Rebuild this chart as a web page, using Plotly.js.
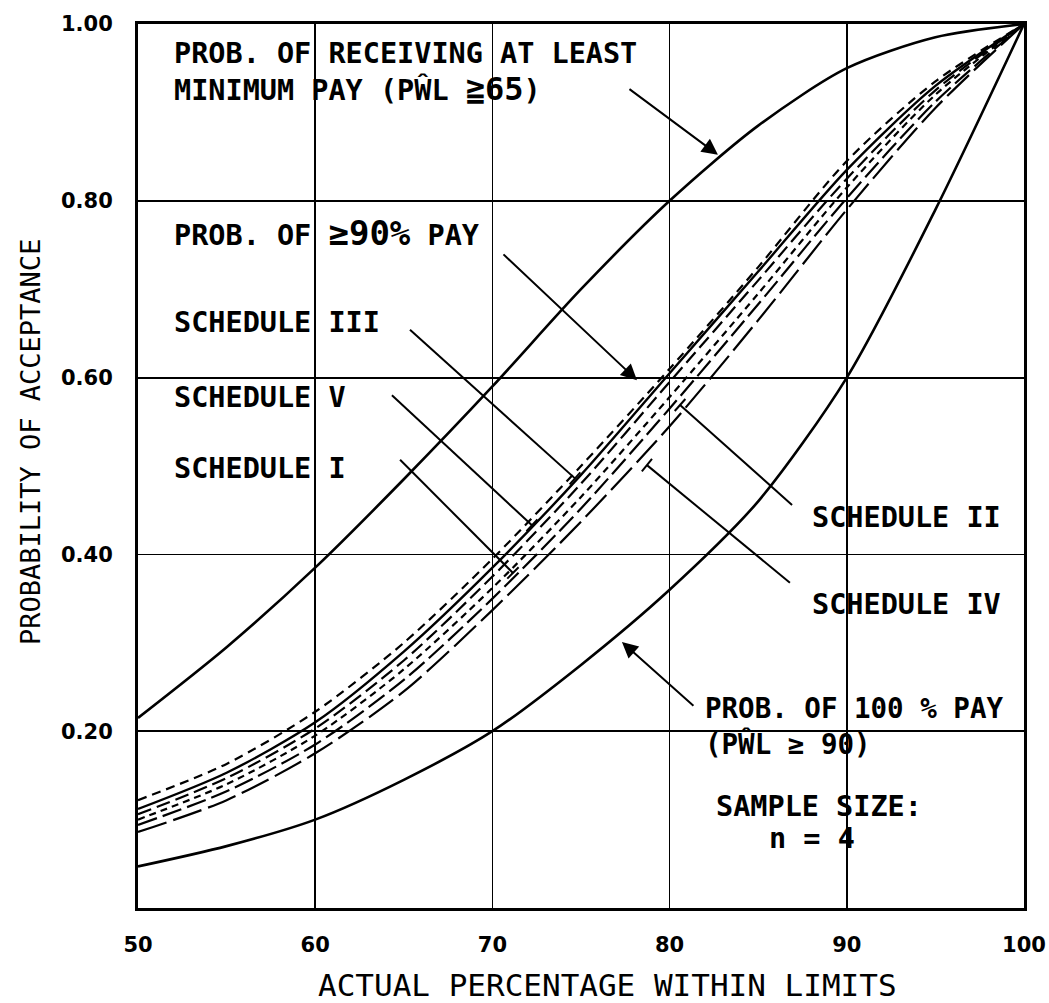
<!DOCTYPE html>
<html><head><meta charset="utf-8">
<script src="https://cdn.plot.ly/plotly-3.0.1.min.js"></script>
<style>html,body{margin:0;padding:0;background:#fff}</style>
</head><body>
<div id="chart" style="width:1049px;height:1003px"></div>
<script>
// ---- data ----
const xPct      = [50, 55, 60, 65, 70, 75, 80, 85, 90, 95, 100];
const minPay    = [0.215, 0.295, 0.385, 0.485, 0.59, 0.70, 0.80, 0.885, 0.95, 0.985, 1.0];
const pay90     = [0.112, 0.153, 0.21, 0.29, 0.385, 0.49, 0.605, 0.72, 0.835, 0.93, 1.0];
const schedIII  = [0.122, 0.163, 0.222, 0.30, 0.395, 0.50, 0.61, 0.725, 0.845, 0.935, 1.0];
const schedV    = [0.106, 0.147, 0.203, 0.28, 0.375, 0.48, 0.595, 0.71, 0.825, 0.925, 1.0];
const schedI    = [0.100, 0.140, 0.195, 0.27, 0.362, 0.465, 0.578, 0.695, 0.815, 0.92, 1.0];
const schedII   = [0.094, 0.132, 0.185, 0.258, 0.35, 0.452, 0.565, 0.683, 0.803, 0.912, 1.0];
const schedIV   = [0.086, 0.122, 0.175, 0.245, 0.337, 0.437, 0.545, 0.665, 0.79, 0.905, 1.0];
const pay100    = [0.047, 0.07, 0.10, 0.145, 0.20, 0.275, 0.36, 0.46, 0.60, 0.79, 1.0];

const xTickVals = [50, 60, 70, 80, 90, 100];
const xTickText = ['50', '60', '70', '80', '90', '100'];
const yTickVals = [0.2, 0.4, 0.6, 0.8, 1.0];
const yTickText = ['0.20', '0.40', '0.60', '0.80', '1.00'];

const xTitle = 'ACTUAL PERCENTAGE WITHIN LIMITS';
const yTitle = 'PROBABILITY OF ACCEPTANCE';

// text labels inside the plot
const labelText = [
  'PROB. OF RECEIVING AT LEAST<br>MINIMUM PAY (PŴL <span style="font-size:32px">≧65</span>)',
  'PROB. OF <span style="font-size:34px">≥90%</span> PAY',
  'SCHEDULE III',
  'SCHEDULE V',
  'SCHEDULE I',
  'SCHEDULE II',
  'SCHEDULE IV',
  'PROB. OF 100 % PAY<br>(PŴL ≥ 90)',
  'SAMPLE SIZE:',
  'n = 4'
];
const labelX = [51.92, 51.92, 51.92, 51.92, 51.92, 87.92, 87.92, 81.9, 82.5, 85.5];
const labelY = [0.9451, 0.7636, 0.6618, 0.578, 0.4977, 0.4423, 0.3428, 0.2059, 0.1143, 0.079];

// arrows: tip (x,y) and tail (x,y)
const arrowTipX  = [82.73, 78.16, 77.31];
const arrowTipY  = [0.852, 0.597, 0.301];
const arrowTailX = [77.65, 70.54, 81.43];
const arrowTailY = [0.9276, 0.741, 0.2274];

// pointer lines (end with a small cross tick): III, V, I, II, IV
const ptrTailX = [65.35, 64.33, 64.79, 86.91, 86.79];
const ptrTailY = [0.654, 0.580, 0.507, 0.456, 0.368];
const ptrTipX  = [74.66, 72.23, 71.16, 80.59, 78.72];
const ptrTipY  = [0.486, 0.433, 0.379, 0.569, 0.501];

// ---- figure ----
const W = 1049, H = 1003, mL = 138, mR = 25, mT = 24, mB = 95;
const pxX = (W - mL - mR) / 50, pxY = (H - mT - mB) / 1;

function tr(y, dash, width) {
  return {x: xPct, y: y, mode: 'lines', type: 'scatter', hoverinfo: 'skip',
          line: {color: '#000', width: width, dash: dash, shape: 'spline', smoothing: 0.8}};
}
const traces = [
  tr(minPay, 'solid', 2.6),
  tr(schedIV, '30px,7px', 2.2),
  tr(schedII, '20px,6px', 2.2),
  tr(schedI, '7px,5px', 2.2),
  tr(schedV, '14px,6px', 2.2),
  tr(pay90, 'solid', 2.4),
  tr(schedIII, '9px,6px', 2.2),
  tr(pay100, 'solid', 2.6)
];

const labelSizes = [28.5, 28.5, 28.5, 28.5, 28.5, 28.5, 28.5, 27.5, 28.5, 28.5];
const annotations = labelText.map((t, i) => ({
  text: t, x: labelX[i], y: labelY[i], xref: 'x', yref: 'y',
  xanchor: 'left', yanchor: 'middle', align: 'left', showarrow: false,
  font: {family: 'DejaVu Sans Mono', size: labelSizes[i], color: '#000', weight: 'bold'}
}));
for (let i = 0; i < arrowTipX.length; i++) {
  annotations.push({
    text: '', x: arrowTipX[i], y: arrowTipY[i], xref: 'x', yref: 'y',
    ax: arrowTailX[i], ay: arrowTailY[i], axref: 'x', ayref: 'y',
    showarrow: true, arrowhead: 2, arrowsize: 1.6, arrowwidth: 2, arrowcolor: '#000', standoff: 0
  });
}
// axis titles placed as text
annotations.push({text: xTitle, xref: 'paper', yref: 'paper', x: (607 - mL) / (W - mL - mR), y: -(985 - (H - mB)) / (H - mT - mB),
  xanchor: 'center', yanchor: 'middle', showarrow: false,
  font: {family: 'DejaVu Sans Mono', size: 31, color: '#000'}});
annotations.push({text: yTitle, xref: 'paper', yref: 'paper', x: (30 - mL) / (W - mL - mR), y: ((H - mB) - 442) / (H - mT - mB),
  xanchor: 'center', yanchor: 'middle', textangle: -90, showarrow: false,
  font: {family: 'DejaVu Sans Mono', size: 27, color: '#000'}});

const shapes = [];
for (let i = 0; i < ptrTipX.length; i++) {
  shapes.push({type: 'line', xref: 'x', yref: 'y',
    x0: ptrTailX[i], y0: ptrTailY[i], x1: ptrTipX[i], y1: ptrTipY[i],
    line: {color: '#000', width: 2}});
  const dx = (ptrTipX[i] - ptrTailX[i]) * pxX, dy = (ptrTipY[i] - ptrTailY[i]) * pxY;
  const L = Math.hypot(dx, dy), k = 8;
  const ox = -dy / L * k, oy = dx / L * k;
  shapes.push({type: 'line', xref: 'x', yref: 'y', xsizemode: 'pixel', ysizemode: 'pixel',
    xanchor: ptrTipX[i], yanchor: ptrTipY[i], x0: -ox, x1: ox, y0: -oy, y1: oy,
    line: {color: '#000', width: 2}});
}

const tickFont = {family: 'DejaVu Sans', size: 21, color: '#000', weight: 'bold'};

const layout = {
  width: W, height: H,
  margin: {l: mL, r: mR, t: mT, b: mB},
  paper_bgcolor: '#fff', plot_bgcolor: '#fff',
  showlegend: false,
  xaxis: {range: [50, 100], tickvals: xTickVals, ticktext: xTickText, ticks: '',
          tickfont: tickFont, ticklabelstandoff: 16,
          showgrid: true, gridcolor: '#000', gridwidth: 1.8, zeroline: false,
          showline: true, mirror: true, linecolor: '#000', linewidth: 3},
  yaxis: {range: [0, 1], tickvals: yTickVals, ticktext: yTickText, ticks: '',
          tickfont: tickFont, ticklabelstandoff: 18,
          showgrid: true, gridcolor: '#000', gridwidth: 1.8, zeroline: false,
          showline: true, mirror: true, linecolor: '#000', linewidth: 3},
  annotations: annotations,
  shapes: shapes
};

Plotly.newPlot('chart', traces, layout, {displayModeBar: false, staticPlot: true});
</script>
</body></html>
